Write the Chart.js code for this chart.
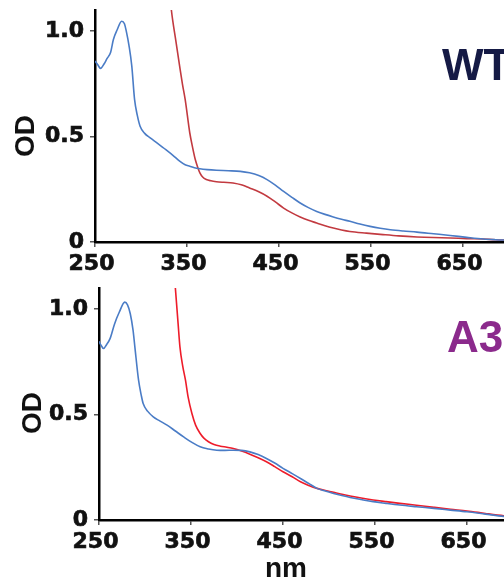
<!DOCTYPE html>
<html>
<head>
<meta charset="utf-8">
<script src="https://cdn.jsdelivr.net/npm/chart.js@4.4.1/dist/chart.umd.min.js"></script>
<style>
  html, body { margin: 0; padding: 0; background: #fff; }
  body { width: 504px; height: 580px; overflow: hidden; position: relative; }
  canvas { position: absolute; left: 0; }
  #wtChart { top: 0; }
  #a3Chart { top: 280px; }
</style>
</head>
<body>
<canvas id="wtChart" width="520" height="272"></canvas>
<canvas id="a3Chart" width="520" height="300"></canvas>
<script>
// axis ticks
const xTicks = [250, 350, 450, 550, 650];
const yTicks = [0, 0.5, 1.0];
const yTickLabels = ['0', '0.5', '1.0'];

// WT panel - blue trace
const wtBlueNm = [250, 253, 256, 260, 263, 267, 270, 274, 279, 282, 284, 287, 290, 293, 296, 299, 304, 310, 318, 327, 335, 342, 348, 353, 358, 364, 372, 382, 395, 408, 418, 428, 437, 446, 455, 464, 473, 482, 491, 500, 509, 518, 527, 538, 549, 560, 571, 585, 600, 618, 636, 654, 672, 685, 700];
const wtBlueOd = [0.858, 0.840, 0.823, 0.845, 0.869, 0.900, 0.960, 1.005, 1.047, 1.035, 1.000, 0.930, 0.834, 0.676, 0.600, 0.549, 0.515, 0.494, 0.468, 0.438, 0.410, 0.383, 0.366, 0.359, 0.352, 0.347, 0.343, 0.340, 0.338, 0.335, 0.328, 0.315, 0.296, 0.270, 0.240, 0.212, 0.185, 0.163, 0.145, 0.131, 0.119, 0.108, 0.098, 0.085, 0.074, 0.065, 0.058, 0.052, 0.047, 0.039, 0.031, 0.022, 0.014, 0.011, 0.009];

// WT panel - red trace
const wtRedNm = [322, 328, 333, 338, 342, 345, 348, 353, 356, 359, 362, 364, 367, 371, 376, 382, 390, 400, 410, 418, 428, 437, 446, 455, 464, 473, 482, 491, 500, 509, 518, 527, 545, 563, 580, 600, 618, 636, 654, 672, 685, 700];
const wtRedOd = [1.60, 1.33, 1.10, 0.950, 0.834, 0.750, 0.676, 0.518, 0.450, 0.391, 0.350, 0.328, 0.308, 0.296, 0.290, 0.286, 0.283, 0.280, 0.270, 0.256, 0.238, 0.217, 0.190, 0.161, 0.138, 0.119, 0.103, 0.090, 0.077, 0.066, 0.057, 0.050, 0.042, 0.035, 0.029, 0.024, 0.021, 0.019, 0.016, 0.014, 0.011, 0.009];

// A3 panel - blue trace
const a3BlueNm = [250, 252, 255, 258, 262, 267, 272, 278, 281, 284, 287, 289, 293, 296, 298, 303, 309, 316, 324, 333, 342, 351, 360, 369, 378, 387, 396, 405, 414, 423, 432, 441, 450, 460, 469, 478, 487, 496, 505, 514, 523, 535, 548, 562, 577, 595, 614, 632, 650, 670, 690, 700];
const a3BlueOd = [0.847, 0.830, 0.813, 0.830, 0.860, 0.931, 0.985, 1.033, 1.020, 0.978, 0.900, 0.820, 0.663, 0.590, 0.552, 0.515, 0.489, 0.470, 0.450, 0.422, 0.394, 0.368, 0.347, 0.337, 0.331, 0.330, 0.331, 0.330, 0.323, 0.310, 0.292, 0.270, 0.245, 0.220, 0.197, 0.173, 0.150, 0.137, 0.126, 0.116, 0.107, 0.097, 0.087, 0.079, 0.071, 0.063, 0.055, 0.047, 0.039, 0.028, 0.017, 0.013];

// A3 panel - red trace
const a3RedNm = [326, 330, 333, 336, 338, 341, 344, 347, 351, 355, 360, 364, 369, 375, 382, 389, 396, 405, 414, 423, 432, 441, 450, 460, 469, 478, 487, 496, 505, 514, 523, 535, 548, 562, 577, 595, 614, 632, 650, 670, 690, 700];
const a3RedOd = [1.50, 1.28, 1.10, 0.930, 0.820, 0.730, 0.663, 0.580, 0.505, 0.450, 0.410, 0.388, 0.371, 0.358, 0.350, 0.345, 0.339, 0.327, 0.312, 0.295, 0.276, 0.253, 0.229, 0.205, 0.181, 0.164, 0.150, 0.140, 0.131, 0.122, 0.114, 0.104, 0.095, 0.087, 0.079, 0.070, 0.060, 0.051, 0.043, 0.031, 0.020, 0.016];

const blue = '#4a7cc6';

function toPoints(xs, ys) {
  return xs.map((x, i) => ({ x: x, y: ys[i] }));
}

// draws the panel name and the axis titles
const panelText = {
  id: 'panelText',
  afterDraw(chart, args, opts) {
    const ctx = chart.ctx;
    ctx.save();
    ctx.fillStyle = opts.color;
    ctx.font = 'bold 44px "Liberation Sans", Arial, sans-serif';
    ctx.textAlign = 'left';
    ctx.textBaseline = 'alphabetic';
    ctx.fillText(opts.name, opts.nameX, opts.nameY);

    ctx.fillStyle = '#111';
    ctx.font = 'bold 28px "Liberation Sans", Arial, sans-serif';
    ctx.translate(opts.odX, opts.odY);
    ctx.rotate(-Math.PI / 2);
    ctx.textAlign = 'center';
    ctx.fillText('OD', 0, 0);
    ctx.restore();

    if (opts.xTitle) {
      ctx.save();
      ctx.fillStyle = '#111';
      ctx.font = 'bold 28px "Liberation Sans", Arial, sans-serif';
      ctx.textAlign = 'center';
      ctx.fillText(opts.xTitle, opts.xTitleX, opts.xTitleY);
      ctx.restore();
    }
  }
};

const tickFont = { family: 'DejaVu Sans', weight: 'bold', size: 22 };

function makeChart(id, blueData, redData, redColor, axisLeft, axisHeight, padTop, padRight, textOpts) {
  return new Chart(document.getElementById(id), {
    type: 'line',
    data: {
      datasets: [
        {
          data: blueData,
          borderColor: blue,
          borderWidth: 1.6,
          pointRadius: 0,
          cubicInterpolationMode: 'monotone',
          clip: 0
        },
        {
          data: redData,
          borderColor: redColor,
          borderWidth: 1.6,
          pointRadius: 0,
          cubicInterpolationMode: 'monotone',
          clip: 0
        }
      ]
    },
    options: {
      responsive: false,
      animation: false,
      layout: { padding: { top: padTop, right: padRight, left: 0, bottom: 0 } },
      plugins: {
        legend: { display: false },
        tooltip: { enabled: false },
        panelText: textOpts
      },
      scales: {
        x: {
          type: 'linear',
          min: 250,
          max: 700,
          afterBuildTicks: (scale) => { scale.ticks = xTicks.map(v => ({ value: v })); },
          afterFit: (scale) => {
            scale.height = axisHeight;
            scale.paddingLeft = 0;
            scale.paddingRight = 0;
          },
          border: { display: true, color: '#000', width: 2.5 },
          grid: { display: true, drawOnChartArea: false, drawTicks: true, tickLength: 5, color: '#555', lineWidth: 1.5 },
          ticks: {
            color: '#111',
            padding: 4,
            labelOffset: -3.5,
            maxRotation: 0,
            textStrokeColor: '#111',
            textStrokeWidth: 0.7,
            font: tickFont
          }
        },
        y: {
          min: 0,
          max: 1.1,
          afterBuildTicks: (scale) => { scale.ticks = yTicks.map(v => ({ value: v })); },
          afterFit: (scale) => {
            scale.width = axisLeft;
            scale.paddingTop = 0;
            scale.paddingBottom = 0;
          },
          border: { display: true, color: '#000', width: 2.5 },
          grid: { display: true, drawOnChartArea: false, drawTicks: true, tickLength: 5, color: '#555', lineWidth: 1.5 },
          ticks: {
            color: '#111',
            padding: 6,
            textStrokeColor: '#111',
            textStrokeWidth: 0.7,
            font: tickFont,
            callback: (value) => yTickLabels[yTicks.indexOf(value)]
          }
        }
      }
    },
    plugins: [panelText]
  });
}

makeChart('wtChart', toPoints(wtBlueNm, wtBlueOd), toPoints(wtRedNm, wtRedOd), '#c23a40',
  95, 30, 10, 11,
  { name: 'WT', color: '#151a45', nameX: 442, nameY: 80, odX: 34, odY: 136 });

makeChart('a3Chart', toPoints(a3BlueNm, a3BlueOd), toPoints(a3RedNm, a3RedOd), '#ee1c2a',
  99, 60, 8, 7,
  { name: 'A3', color: '#8b2a8c', nameX: 447, nameY: 72, odX: 40.5, odY: 133, xTitle: 'nm', xTitleX: 286, xTitleY: 297 });
</script>
</body>
</html>
